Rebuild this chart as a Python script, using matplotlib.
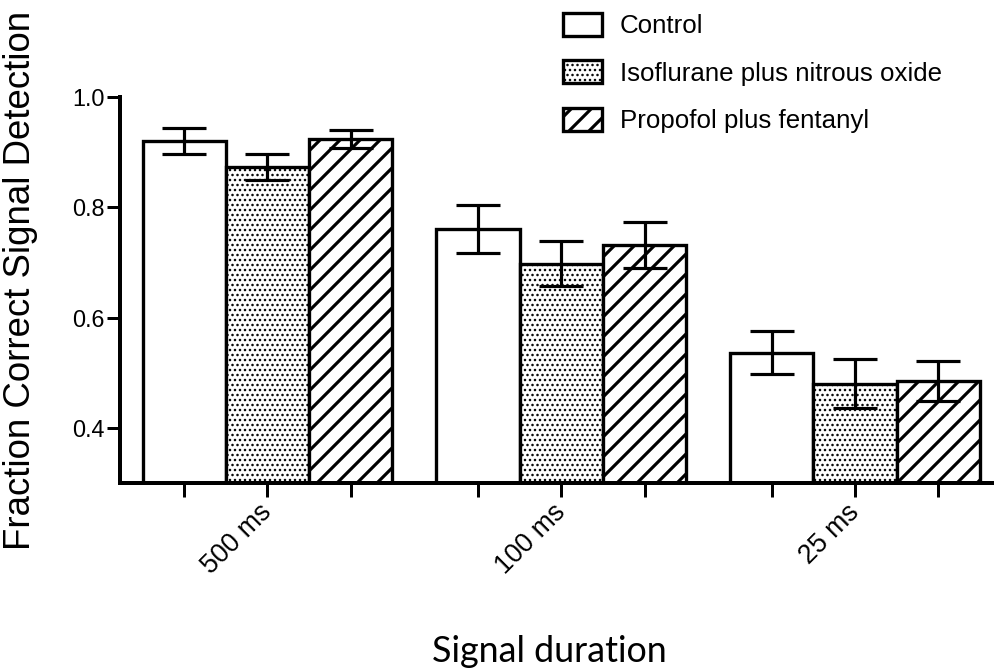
import numpy as np
import matplotlib
matplotlib.use("Agg")
import matplotlib.pyplot as plt

plt.rcParams["font.family"] = ["Liberation Sans", "DejaVu Sans"]

durations = ["500 ms", "100 ms", "25 ms"]
groups = ["Control", "Isoflurane plus nitrous oxide", "Propofol plus fentanyl"]
control = [0.920, 0.761, 0.536]
control_err = [0.024, 0.044, 0.039]
iso = [0.873, 0.698, 0.480]
iso_err = [0.023, 0.041, 0.044]
prop = [0.924, 0.731, 0.485]
prop_err = [0.017, 0.042, 0.037]

means = [control, iso, prop]
errs = [control_err, iso_err, prop_err]
hatches = ["", "....", "//"]
hatch_lw = [1.0, 0.9, 1.9]

dpi = 120
fig = plt.figure(figsize=(994 / dpi, 671 / dpi), dpi=dpi)
ax = fig.add_axes([120 / 994, 1 - 483 / 671, 874 / 994, (483 - 97) / 671])

x = np.arange(len(durations))
w = 0.2834
for i, (m, e) in enumerate(zip(means, errs)):
    pos = x + (i - 1) * w
    with plt.rc_context({"hatch.linewidth": hatch_lw[i]}):
        bars = ax.bar(pos, m, width=w, facecolor="white", edgecolor="black",
                      linewidth=2.0, hatch=hatches[i], label=groups[i], zorder=2)
    for b in bars:
        if hasattr(b, "set_hatch_linewidth"):
            b.set_hatch_linewidth(hatch_lw[i])
    ax.errorbar(pos, m, yerr=e, fmt="none", ecolor="black", elinewidth=1.9,
                capsize=13.2, capthick=1.9, zorder=3)

ax.set_ylim(0.3, 1.0)
ax.set_xlim(-0.502, 2.473)
ax.spines["top"].set_visible(False)
ax.spines["right"].set_visible(False)
ax.spines["left"].set_linewidth(2.4)
ax.spines["bottom"].set_linewidth(2.4)
ax.spines["left"].set_bounds(0.3, 1.0)

ax.set_yticks([0.4, 0.6, 0.8, 1.0])
ax.set_yticklabels(["0.4", "0.6", "0.8", "1.0"], fontsize=14)
ax.tick_params(axis="y", length=7.8, width=1.8, pad=1.5)

ax.set_xticks(x)
ax.set_xticks(np.concatenate([x - w, x + w]), minor=True)
ax.set_xticklabels(durations, rotation=45, ha="right", va="center",
                   rotation_mode="anchor", fontsize=16)
ax.tick_params(axis="x", which="both", length=8.4, width=1.8, pad=7)

fig.text(21 / 994, 1 - 280 / 671, "Fraction Correct Signal Detection",
         rotation=90, ha="center", va="center", fontsize=22)
fig.text(0.553, 1 - 662 / 671, "Signal duration", ha="center", va="baseline",
         fontsize=21.5, family=["Lato", "DejaVu Sans"])

leg = ax.legend(loc="upper left", bbox_to_anchor=(563 / 994, 1 - 13 / 671),
                bbox_transform=fig.transFigure, frameon=False, fontsize=15.5,
                handlelength=1.51, handleheight=1.0, handletextpad=0.7,
                labelspacing=0.85, borderpad=0, borderaxespad=0)
for p, lw in zip(leg.get_patches(), hatch_lw):
    p.set_linewidth(2.0)
    if hasattr(p, "set_hatch_linewidth"):
        p.set_hatch_linewidth(lw)

fig.savefig("out.png", dpi=dpi)
